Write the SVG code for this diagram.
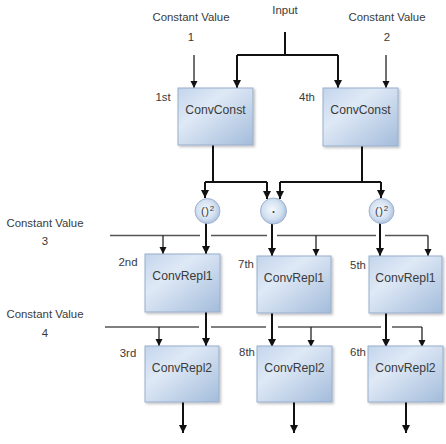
<svg xmlns="http://www.w3.org/2000/svg" width="446" height="444" viewBox="0 0 446 444">
<defs>
<style>
text{font-family:"Liberation Sans",Arial,sans-serif;fill:#3a3a3a;text-anchor:middle}
.lbl{font-size:11.4px}
.box{fill:url(#bg);stroke:#98aecb;stroke-width:1;filter:url(#sh)}
.bt{font-size:12.2px}
.circ{fill:url(#cg);stroke:#9fb3cf;stroke-width:1}
.sq{font-size:11px;letter-spacing:0.8px}
.data{fill:none;stroke:#111;stroke-width:2}
.dataA{fill:none;stroke:#111;stroke-width:2;marker-end:url(#ah)}
.cst{fill:none;stroke:#555;stroke-width:1.3}
.cstA{fill:none;stroke:#222;stroke-width:1.3;marker-end:url(#ah2)}
</style>
<linearGradient id="bg" x1="0" y1="0" x2="1" y2="1">
<stop offset="0" stop-color="#c3d5ec"/>
<stop offset="0.35" stop-color="#dfe9f6"/>
<stop offset="1" stop-color="#a3bcdb"/>
</linearGradient>
<radialGradient id="cg" cx="0.45" cy="0.45" r="0.6">
<stop offset="0" stop-color="#f4f8fd"/>
<stop offset="0.6" stop-color="#d4e1f1"/>
<stop offset="1" stop-color="#a6bddb"/>
</radialGradient>
<filter id="sh" x="-10%" y="-10%" width="125%" height="125%">
<feDropShadow dx="1.5" dy="1.5" stdDeviation="1.2" flood-color="#000" flood-opacity="0.25"/>
</filter>
<marker id="ah" markerUnits="userSpaceOnUse" markerWidth="10" markerHeight="10" refX="8" refY="4" orient="auto">
<path d="M0,0 L8,4 L0,8 Z" fill="#111"/>
</marker>
<marker id="ah2" markerUnits="userSpaceOnUse" markerWidth="10" markerHeight="10" refX="7" refY="3.5" orient="auto">
<path d="M0,0 L7,3.5 L0,7 Z" fill="#111"/>
</marker>
</defs>
<rect width="446" height="444" fill="#fff"/>

<g id="labels">
<text class="lbl" x="285" y="14">Input</text>
<text class="lbl" x="191" y="21">Constant Value</text>
<text class="lbl" x="191" y="41">1</text>
<text class="lbl" x="387" y="21">Constant Value</text>
<text class="lbl" x="387" y="41">2</text>
<text class="lbl" x="45" y="227">Constant Value</text>
<text class="lbl" x="45" y="245">3</text>
<text class="lbl" x="45" y="318">Constant Value</text>
<text class="lbl" x="45" y="337">4</text>
</g>

<g id="connectors">
<path class="data" d="M285,32 V55 M237,55 H338"/>
<path class="dataA" d="M237,55 V88"/>
<path class="dataA" d="M338,55 V88"/>
<path class="cstA" d="M194,55 V88"/>
<path class="cstA" d="M386,55 V88"/>
<path class="data" d="M213,145 V182 M205,182 H267"/>
<path class="dataA" d="M205,182 V198"/>
<path class="dataA" d="M267,182 V199"/>
<path class="data" d="M362,146 V182 M280,182 H381"/>
<path class="dataA" d="M280,182 V199"/>
<path class="dataA" d="M381,182 V198"/>
<path class="dataA" d="M206,223 V254"/>
<path class="dataA" d="M272,224 V256"/>
<path class="dataA" d="M380,223 V256"/>
<path class="cst" d="M110,235.5 H200 M211,235.5 H267 M277,235.5 H376 M385,235.5 H428"/>
<path class="cstA" d="M428,235.5 V256"/>
<path class="cstA" d="M163,235.5 V254"/>
<path class="cstA" d="M316,235.5 V256"/>
<path class="dataA" d="M206,312 V346"/>
<path class="dataA" d="M272,313 V347"/>
<path class="dataA" d="M386,313 V347"/>
<path class="cst" d="M105,327 H199 M211,327 H266 M278,327 H381 M392,327 H422"/>
<path class="cstA" d="M422,327 V347"/>
<path class="cstA" d="M159,327 V346"/>
<path class="cstA" d="M311,327 V347"/>
<path class="dataA" d="M183,402 V433"/>
<path class="dataA" d="M294,402 V433"/>
<path class="dataA" d="M406,402 V433"/>
</g>

<g id="n1st">
<rect class="box" x="178" y="88" width="75" height="57"/>
<text class="bt" x="215.5" y="114">ConvConst</text>
<text class="lbl" x="163" y="101">1st</text>
</g>
<g id="n4th">
<rect class="box" x="323" y="88" width="75" height="58"/>
<text class="bt" x="360.5" y="114">ConvConst</text>
<text class="lbl" x="307" y="101">4th</text>
</g>

<g id="sq1">
<circle class="circ" cx="207.5" cy="211" r="12.5"/>
<text class="sq" x="208" y="215">()<tspan font-size="8" dy="-4">2</tspan></text>
</g>
<g id="mul">
<circle class="circ" cx="273.5" cy="211" r="13"/>
<text x="273.5" y="213.5" style="font-size:7px">•</text>
</g>
<g id="sq2">
<circle class="circ" cx="381.5" cy="211" r="12.5"/>
<text class="sq" x="382" y="215">()<tspan font-size="8" dy="-4">2</tspan></text>
</g>

<g id="n2nd">
<rect class="box" x="145" y="254" width="75" height="58"/>
<text class="bt" x="182.5" y="280">ConvRepl1</text>
<text class="lbl" x="128" y="266">2nd</text>
</g>
<g id="n7th">
<rect class="box" x="257" y="256" width="74" height="57"/>
<text class="bt" x="294" y="282">ConvRepl1</text>
<text class="lbl" x="246" y="268">7th</text>
</g>
<g id="n5th">
<rect class="box" x="369" y="256" width="73" height="57"/>
<text class="bt" x="405.5" y="282">ConvRepl1</text>
<text class="lbl" x="358" y="269">5th</text>
</g>

<g id="n3rd">
<rect class="box" x="145" y="346" width="74" height="56"/>
<text class="bt" x="182" y="372">ConvRepl2</text>
<text class="lbl" x="128" y="357">3rd</text>
</g>
<g id="n8th">
<rect class="box" x="257" y="346" width="75" height="56"/>
<text class="bt" x="294.5" y="372">ConvRepl2</text>
<text class="lbl" x="247" y="356">8th</text>
</g>
<g id="n6th">
<rect class="box" x="368" y="346" width="75" height="56"/>
<text class="bt" x="405.5" y="372">ConvRepl2</text>
<text class="lbl" x="358" y="356">6th</text>
</g>
</svg>
